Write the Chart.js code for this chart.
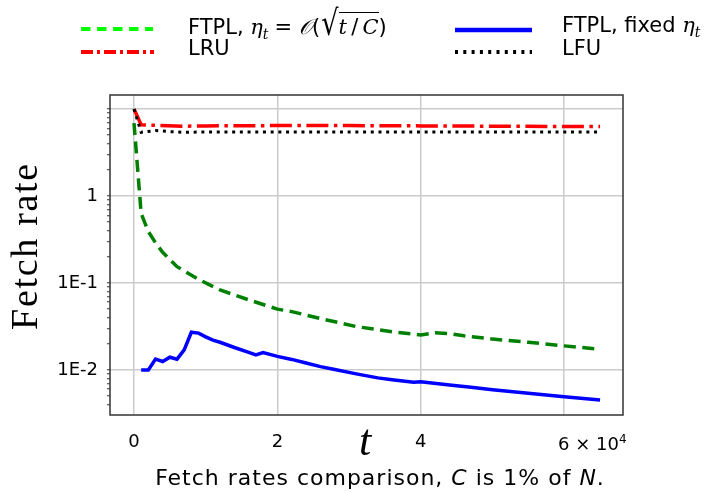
<!DOCTYPE html>
<html><head><meta charset="utf-8">
<script src="https://cdn.jsdelivr.net/npm/chart.js@4.4.1/dist/chart.umd.min.js"></script>
<style>
html,body{margin:0;padding:0;background:#fff;}
#wrap{position:relative;width:704px;height:492px;overflow:hidden;background:#fff;}
canvas{position:absolute;left:0;top:0;}
.t{position:absolute;white-space:nowrap;font-family:'DejaVu Sans',sans-serif;color:#000;line-height:24px;}
.m{font-family:'DejaVu Serif',serif;font-style:italic;}
.ib{display:inline-block;}
svg{position:absolute;left:0;top:0;}
</style></head>
<body><div id="wrap"><canvas id="c" width="704" height="492"></canvas>
<svg width="704" height="70">
  <line x1="81" y1="29" x2="153" y2="29" stroke="#00ff00" stroke-width="4" stroke-dasharray="9.5,6.5"/>
  <line x1="81" y1="52" x2="154" y2="52" stroke="#ff0000" stroke-width="4" stroke-dasharray="12,4,3,4"/>
  <line x1="455" y1="30" x2="532" y2="30" stroke="#0000ff" stroke-width="4.5"/>
  <line x1="455" y1="52" x2="532" y2="52" stroke="#000" stroke-width="4" stroke-dasharray="3,5.3"/>
</svg>
<div class="t" style="left:188px;top:13px;font-size:21px;">FTPL, <span class="m">η</span><sub class="m" style="font-size:14px">t</sub><span class="ib" style="margin:0 7px 0 6px">=</span><span class="m">𝒪</span>(<span class="ib" style="font-size:27px;transform:scale(1,1.3);transform-origin:50% 75%;margin-left:1px">√</span><span style="border-top:1.5px solid #000;padding-top:2px"><span class="m">t</span>&thinsp;/&thinsp;<span class="m">C</span></span>)</div>
<div class="t" style="left:188px;top:36px;font-size:21px;">LRU</div>
<div class="t" style="left:562px;top:13px;font-size:21px;">FTPL, fixed <span class="m">η</span><sub class="m" style="font-size:14px">t</sub></div>
<div class="t" style="left:562px;top:36px;font-size:21px;">LFU</div>
<div class="t" style="left:558px;top:427px;font-size:18px;">6 × 10<sup style="font-size:12px">4</sup></div>
<div class="t" style="left:5px;top:227px;width:38px;height:38px;"><div style="position:absolute;left:-65px;top:0;width:168px;height:38px;line-height:38px;text-align:center;font-family:'Liberation Serif',serif;font-size:38px;letter-spacing:1.7px;transform:rotate(-90deg);transform-origin:84px 19px;">Fetch rate</div></div>
<div class="t" style="left:359px;top:419px;font-size:44px;line-height:44px;font-family:'Liberation Serif',serif;font-style:italic;">t</div>
<div class="t" style="left:130px;width:500px;text-align:center;top:466px;font-size:22px;letter-spacing:1px;">Fetch rates comparison, <i>C</i> is 1% of <i>N</i>.</div>
</div>
<script>
// ---- data (t in raw units, values are fetch rates) ----
const tFTPL = [0,1000,2000,3000,4000,6000,9000,12000,16000,20000,22000,26000,31000,36000,40000,42000,44000,46000,50000,55000,60000,65000];
const vFTPL = [6.9,0.63,0.39,0.29,0.225,0.154,0.11,0.083,0.064,0.050,0.0468,0.039,0.0315,0.0275,0.0252,0.0268,0.0262,0.0247,0.0226,0.0208,0.0189,0.0173];
const tFixed = [1000,2000,3000,4000,5000,6000,7000,8000,9000,10000,11000,12000,14000,16000,17000,18000,20000,22000,24000,26000,28000,31000,34000,36000,39000,40000,44000,47000,50000,55000,60000,65000];
const vFixed = [0.0100,0.0100,0.0133,0.0125,0.0140,0.0133,0.0170,0.0271,0.0265,0.0240,0.0220,0.0208,0.0181,0.0159,0.0149,0.0158,0.0143,0.0132,0.0120,0.0109,0.0101,0.0090,0.0081,0.0077,0.0072,0.0073,0.0067,0.0063,0.0059,0.0054,0.0049,0.0045];
const tLRU = [0,1000,3000,7000,10000,20000,30000,40000,50000,60000,65000];
const vLRU = [10,6.6,6.5,6.35,6.4,6.45,6.45,6.4,6.35,6.3,6.3];
const tLFU = [0,1000,3000,5000,7000,10000,20000,30000,40000,50000,60000,65000];
const vLFU = [10,5.4,5.65,5.5,5.4,5.45,5.45,5.45,5.45,5.45,5.45,5.45];
const xTicks = [0,20000,40000,60000];
const xTickLabels = ['0','2','4',''];   // "6 × 10⁴" is written beside the axis as offset text
const yMajor = [10,1,0.1,0.01];
const yMajorLabels = ['','1','1E-1','1E-2'];

const pts = (ts, vs) => ts.map((t, i) => ({x: t, y: vs[i]}));
const isMajor = v => yMajor.some(m => Math.abs(v - m) / m < 1e-6);

const frame = {
  id: 'frame',
  afterDatasetsDraw(chart) {
    const a = chart.chartArea, ctx = chart.ctx;
    ctx.save();
    ctx.strokeStyle = '#333';
    ctx.lineWidth = 1.5;
    ctx.strokeRect(a.left, a.top, a.right - a.left, a.bottom - a.top);
    ctx.restore();
  }
};

new Chart(document.getElementById('c'), {
  type: 'line',
  data: {
    datasets: [
      {label: 'LFU', data: pts(tLFU, vLFU), borderColor: '#000', borderWidth: 3, borderDash: [3, 4.7], order: 0},
      {label: 'LRU', data: pts(tLRU, vLRU), borderColor: '#ff0000', borderWidth: 3.5, borderDash: [22, 5.5, 3.5, 5.5], order: 1},
      {label: 'FTPL, fixed η_t', data: pts(tFixed, vFixed), borderColor: '#0000ff', borderWidth: 3.5, order: 2},
      {label: 'FTPL, η_t = O(sqrt(t/C))', data: pts(tFTPL, vFTPL), borderColor: '#008000', borderWidth: 3.5, borderDash: [12, 6.5], order: 3}
    ]
  },
  options: {
    responsive: false,
    animation: false,
    devicePixelRatio: 1,
    elements: {point: {radius: 0}, line: {tension: 0, borderCapStyle: 'butt', fill: false}},
    layout: {padding: {left: 0, top: 95, right: 81, bottom: 0}},
    plugins: {legend: {display: false}, tooltip: {enabled: false}},
    scales: {
      x: {
        type: 'linear',
        min: -3347, max: 68200,
        afterBuildTicks: s => { s.ticks = xTicks.map(v => ({value: v})); },
        afterFit: s => { s.height = 77; },
        grid: {color: '#cbcbcb', lineWidth: 1.5, drawTicks: false},
        border: {display: false},
        ticks: {
          padding: 17,
          color: '#000',
          font: {family: 'DejaVu Sans', size: 18},
          maxRotation: 0, autoSkip: false,
          callback: (v) => { const i = xTicks.indexOf(v); return i >= 0 ? xTickLabels[i] : ''; }
        }
      },
      y: {
        type: 'logarithmic',
        min: 0.00303, max: 14.5,
        afterBuildTicks: s => {
          const arr = [];
          for (let d = -3; d <= 1; d++) {
            for (let m = 1; m <= 9; m++) {
              const v = parseFloat((m * Math.pow(10, d)).toPrecision(6));
              if (v >= s.min && v <= s.max) arr.push({value: v});
            }
          }
          s.ticks = arr;
        },
        afterFit: s => { s.width = 110; },
        grid: {
          color: c => (c.tick && isMajor(c.tick.value)) ? '#cbcbcb' : 'rgba(0,0,0,0)',
          lineWidth: 1.5,
          tickColor: '#333',
          tickLength: 3,
          tickWidth: 1
        },
        border: {display: false},
        ticks: {
          padding: 9,
          color: '#000',
          font: {family: 'DejaVu Sans', size: 18},
          autoSkip: false,
          callback: (v) => { const i = yMajor.findIndex(m => Math.abs(v - m) / m < 1e-6); return i >= 0 ? yMajorLabels[i] : ''; }
        }
      }
    }
  },
  plugins: [frame]
});
</script>
</body></html>
